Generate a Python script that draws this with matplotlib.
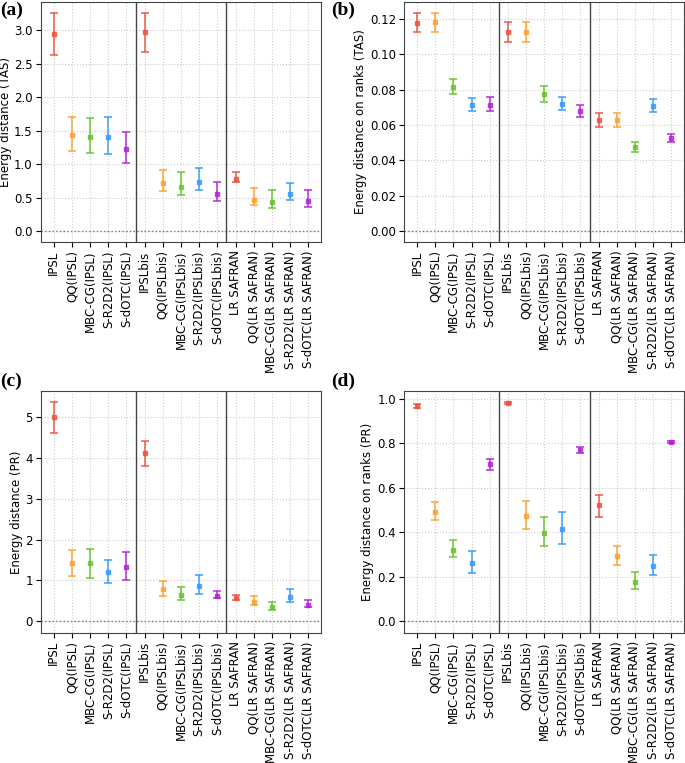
import numpy as np
import matplotlib.pyplot as plt

labels = ['IPSL', 'QQ(IPSL)', 'MBC-CG(IPSL)', 'S-R2D2(IPSL)', 'S-dOTC(IPSL)',
          'IPSLbis', 'QQ(IPSLbis)', 'MBC-CG(IPSLbis)', 'S-R2D2(IPSLbis)', 'S-dOTC(IPSLbis)',
          'LR SAFRAN', 'QQ(LR SAFRAN)', 'MBC-CG(LR SAFRAN)', 'S-R2D2(LR SAFRAN)', 'S-dOTC(LR SAFRAN)']
cols = ['#f0503c', '#ff9f2e', '#66c22a', '#3399ff', '#b41ee0']

# (a) energy distance TAS
a_mid = [2.94, 1.44, 1.41, 1.40, 1.23, 2.97, 0.71, 0.66, 0.73, 0.55, 0.78, 0.47, 0.44, 0.55, 0.45]
a_lo = [2.63, 1.19, 1.16, 1.15, 1.02, 2.68, 0.60, 0.54, 0.61, 0.45, 0.73, 0.39, 0.35, 0.46, 0.36]
a_hi = [3.26, 1.71, 1.69, 1.70, 1.48, 3.25, 0.915, 0.875, 0.94, 0.735, 0.885, 0.64, 0.62, 0.71, 0.62]

# (b) energy distance on ranks TAS
b_mid = [0.1179, 0.118, 0.0817, 0.0715, 0.0715, 0.1125, 0.1125, 0.0774, 0.0717, 0.0678,
         0.0627, 0.0627, 0.0475, 0.0708, 0.0526]
b_lo = [0.1125, 0.1125, 0.0774, 0.068, 0.0678, 0.107, 0.107, 0.073, 0.0683, 0.0647,
        0.0589, 0.0589, 0.0445, 0.0672, 0.0502]
b_hi = [0.1236, 0.1236, 0.0862, 0.0755, 0.0757, 0.118, 0.118, 0.0821, 0.0757, 0.0715,
        0.067, 0.067, 0.0506, 0.0745, 0.0549]

# (c) energy distance PR
c_mid = [5.0, 1.42, 1.42, 1.20, 1.34, 4.12, 0.79, 0.65, 0.87, 0.61, 0.56, 0.47, 0.35, 0.59, 0.39]
c_lo = [4.62, 1.11, 1.06, 0.93, 1.01, 3.81, 0.63, 0.52, 0.66, 0.56, 0.52, 0.39, 0.28, 0.46, 0.35]
c_hi = [5.36, 1.75, 1.76, 1.50, 1.69, 4.42, 0.98, 0.85, 1.13, 0.73, 0.65, 0.61, 0.47, 0.78, 0.52]

# (d) energy distance on ranks PR
d_mid = [0.967, 0.491, 0.321, 0.260, 0.704, 0.979, 0.471, 0.398, 0.416, 0.770,
         0.520, 0.291, 0.177, 0.248, 0.806]
d_lo = [0.956, 0.455, 0.288, 0.215, 0.677, 0.974, 0.414, 0.339, 0.345, 0.757,
        0.470, 0.254, 0.147, 0.207, 0.802]
d_hi = [0.977, 0.536, 0.363, 0.314, 0.730, 0.983, 0.538, 0.468, 0.489, 0.782,
        0.568, 0.339, 0.222, 0.299, 0.809]


def panel(ax, mid, lo, hi, ylabel, ylim, yticks, yticklabels, labx, tag, tagx, tagy):
    x = np.arange(len(labels))
    for i in x:
        c = cols[i % 5]
        ax.errorbar(i, mid[i], yerr=[[mid[i] - lo[i]], [hi[i] - mid[i]]], fmt='s', color=c,
                    ms=2.5, elinewidth=1.3, capsize=3, capthick=1.3, alpha=0.8, zorder=3)
    ax.axhline(0, color='#777777', ls=':', lw=1, zorder=2)
    ax.axvline(4.5, color='#444444', lw=1, zorder=2)
    ax.axvline(9.5, color='#444444', lw=1, zorder=2)
    ax.set_xlim(-0.7, 14.7)
    ax.set_ylim(*ylim)
    ax.set_yticks(yticks)
    ax.set_yticklabels(yticklabels)
    ax.set_xticks(x)
    ax.set_xticklabels(labels, rotation=90, fontsize=8.5)
    ax.tick_params(axis='y', labelsize=8.5, pad=2.5)
    ax.tick_params(axis='x', pad=2.5)
    ax.grid(True, ls=':', color='#cccccc', lw=0.8)
    ax.set_ylabel(ylabel, fontsize=8.5)
    ax.yaxis.set_label_coords(labx, 0.5)
    for s in ax.spines.values():
        s.set_color('#444444')
    fig.text(tagx, tagy, tag, fontsize=14, fontweight='bold', family='Liberation Serif',
             ha='left', va='top')


fig = plt.figure(figsize=(6.85, 7.63), dpi=100)
ax1 = fig.add_axes([0.0599, 0.6828, 0.4087, 0.3146])
ax2 = fig.add_axes([0.5903, 0.6828, 0.4082, 0.3146])
ax3 = fig.add_axes([0.0599, 0.1708, 0.4087, 0.3168])
ax4 = fig.add_axes([0.5903, 0.1708, 0.4082, 0.3168])

panel(ax1, a_mid, a_lo, a_hi, 'Energy distance (TAS)', (-0.164, 3.42),
      [0, 0.5, 1.0, 1.5, 2.0, 2.5, 3.0], ['0.0', '0.5', '1.0', '1.5', '2.0', '2.5', '3.0'],
      -0.102, '(a)', 0.0, 0.998)
panel(ax2, b_mid, b_lo, b_hi, 'Energy distance on ranks (TAS)', (-0.0062, 0.1296),
      [0, 0.02, 0.04, 0.06, 0.08, 0.10, 0.12],
      ['0.00', '0.02', '0.04', '0.06', '0.08', '0.10', '0.12'],
      -0.133, '(b)', 0.483, 0.998)
panel(ax3, c_mid, c_lo, c_hi, 'Energy distance (PR)', (-0.28, 5.64),
      [0, 1, 2, 3, 4, 5], ['0', '1', '2', '3', '4', '5'],
      -0.066, '(c)', 0.0, 0.512)
panel(ax4, d_mid, d_lo, d_hi, 'Energy distance on ranks (PR)', (-0.051, 1.034),
      [0, 0.2, 0.4, 0.6, 0.8, 1.0], ['0.0', '0.2', '0.4', '0.6', '0.8', '1.0'],
      -0.108, '(d)', 0.483, 0.512)

fig.savefig('out.png', dpi=100)
